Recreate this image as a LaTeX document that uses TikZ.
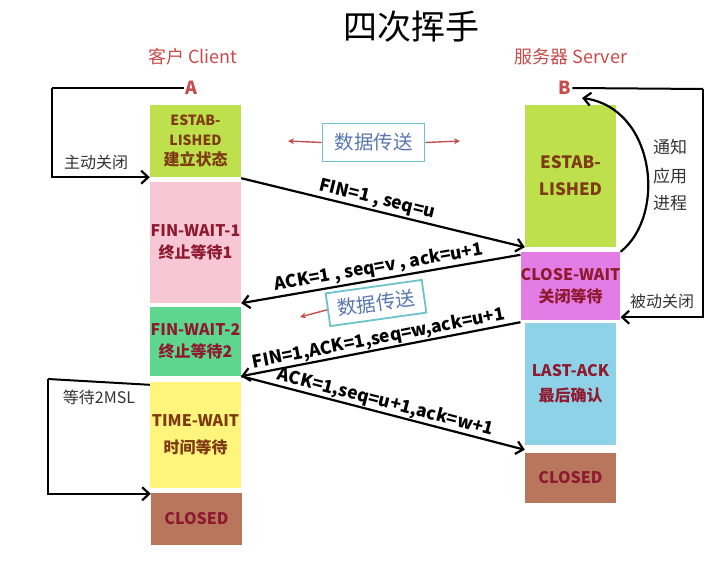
\documentclass[tikz,border=0pt]{standalone}
\usepackage{fontspec}
\setmainfont{Noto Sans CJK SC}
\usetikzlibrary{arrows.meta}
\definecolor{cEst}{HTML}{BEE04C}
\definecolor{cFw1}{HTML}{F7C7D6}
\definecolor{cFw2}{HTML}{5ED68E}
\definecolor{cTw}{HTML}{FFF57C}
\definecolor{cCl}{HTML}{B8765C}
\definecolor{cCw}{HTML}{E47CE6}
\definecolor{cLa}{HTML}{8ED2E8}
\definecolor{txtBrown}{HTML}{7E3A12}
\definecolor{txtRed}{HTML}{8E1A30}
\definecolor{hdrRed}{HTML}{C84A4A}
\definecolor{dataBorder}{HTML}{6CC4CA}
\definecolor{dataText}{HTML}{5A78B0}
\definecolor{dataArrow}{HTML}{C0504D}
\definecolor{lblGrey}{HTML}{333333}
\begin{document}
\begin{tikzpicture}[x=1pt,y=-1pt,
  state/.style={rectangle, minimum width=91pt, inner sep=0pt, align=center,
    font=\fontsize{16}{22}\selectfont\bfseries},
  conn/.style={line width=2.2pt, -{Straight Barb[length=7pt,width=13pt]}},
  msg/.style={font=\fontsize{17.5}{19}\selectfont\bfseries, sloped, above, inner sep=1.5pt},
  sidelbl/.style={font=\fontsize{16}{18}\selectfont, text=lblGrey},
  hdr/.style={font=\fontsize{18}{20}\selectfont, text=hdrRed},
  letter/.style={font=\fontsize{18}{20}\selectfont\bfseries, text=hdrRed, inner sep=1pt},
  databox/.style={draw=dataBorder, line width=1.8pt, fill=white, text=dataText,
    font=\fontsize{19.5}{21}\selectfont, minimum width=102pt, minimum height=38pt, inner sep=2pt},
  dataarr/.style={draw=dataArrow, line width=1.4pt, -{Stealth[length=6pt,width=6pt]}}
]
\useasboundingbox (0,0) rectangle (727,572);

% title and headers
\node[font=\fontsize{34}{38}\selectfont] (title) at (411,27) {四次挥手};
\node[hdr] (client) at (193,57) {客户 Client};
\node[hdr] (server) at (571,57) {服务器 Server};
\node[letter] (A) at (191,88) {A};
\node[letter] (B) at (565,88) {B};

% client states
\node[state, fill=cEst, minimum height=72pt, text=txtBrown, font=\fontsize{14}{20}\selectfont\bfseries] (cE) at (195.5,141) {ESTAB-\\LISHED\\{\fontsize{16}{20}\selectfont 建立状态}};
\node[state, fill=cFw1, minimum height=121pt, text=txtRed] (cF1) at (195.5,242.5) {FIN-WAIT-1\\终止等待1};
\node[state, fill=cFw2, minimum height=69pt, text=txtRed] (cF2) at (195.5,341.5) {FIN-WAIT-2\\终止等待2};
\node[state, fill=cTw, minimum height=106pt, text=txtBrown, font=\fontsize{16}{27}\selectfont\bfseries] (cT) at (195.5,435) {TIME-WAIT\\时间等待};
\node[state, fill=cCl, minimum height=52pt, text=txtRed] (cC) at (196.5,519) {CLOSED};

% server states
\node[state, fill=cEst, minimum height=142pt, text=txtBrown, font=\fontsize{17}{27}\selectfont\bfseries] (sE) at (570.5,176) {ESTAB-\\LISHED};
\node[state, fill=cCw, minimum height=68pt, text=txtRed] (sCW) at (570.5,286) {CLOSE-WAIT\\关闭等待};
\node[state, fill=cLa, minimum height=122pt, text=txtRed, font=\fontsize{16}{25}\selectfont\bfseries] (sL) at (570.5,384) {LAST-ACK\\最后确认};
\node[state, fill=cCl, minimum height=50pt, text=txtRed] (sC) at (570.5,478) {CLOSED};

% data transfer boxes
\node[databox] (d1) at (373.5,142.5) {数据传送};
\coordinate (d1l) at (288,141);
\coordinate (d1r) at (460,141);
\draw[dataarr] (d1.west) -- (d1l);
\draw[dataarr] (d1.east) -- (d1r);

\node[databox, rotate=8, minimum width=97pt, minimum height=33pt] (d2) at (376,303) {数据传送};
\coordinate (d2l) at (300,317);
\draw[dataarr] (d2.west) -- (d2l);

% messages
\draw[conn] ([yshift=-1pt]cE.south east) -- node[msg, pos=0.47] {FIN=1 , seq=u} (sE.south west);
\draw[conn] ([yshift=-3pt]sCW.north west) -- node[msg] {ACK=1 , seq=v , ack=u+1} (cF1.south east);
\draw[conn] ([yshift=-2pt]sCW.south west) -- node[msg, inner sep=0.5pt] {FIN=1,ACK=1,seq=w,ack=u+1} (cF2.south east);
\draw[conn] (cF2.south east) -- node[msg, inner sep=0.5pt] {ACK=1,seq=u+1,ack=w+1} ([yshift=3pt]sC.north west);

% client side loops
\coordinate (a1) at (52,88);
\draw[line width=2pt] (A.west) -- (a1);
\draw[conn] (a1) |- (cE.south west);
\node[sidelbl] (lblActive) at (96,162) {主动关闭};

\coordinate (t1) at (48,379);
\draw[line width=2pt] ([yshift=-3pt]cT.north west) -- (t1);
\draw[conn] (t1) |- ([yshift=-1pt]cC.north west);
\node[sidelbl] (lblWait) at (99,397) {等待2MSL};

% server side loops
\coordinate (b1) at (703,89);
\draw[line width=2pt] (B.east) -- (b1);
\draw[conn] (b1) |- ([yshift=3pt]sCW.south east);
\node[sidelbl] (lblPassive) at (662,301) {被动关闭};

\coordinate (btip) at (582,98);
\draw[conn] (sCW.north east) .. controls (667,215) and (655,108) .. (btip);
\node[sidelbl, font=\fontsize{17}{19}\selectfont] (n1) at (670,147) {通知};
\node[sidelbl, font=\fontsize{17}{19}\selectfont] (n2) at (670,176) {应用};
\node[sidelbl, font=\fontsize{17}{19}\selectfont] (n3) at (670,203) {进程};
\end{tikzpicture}
\end{document}
